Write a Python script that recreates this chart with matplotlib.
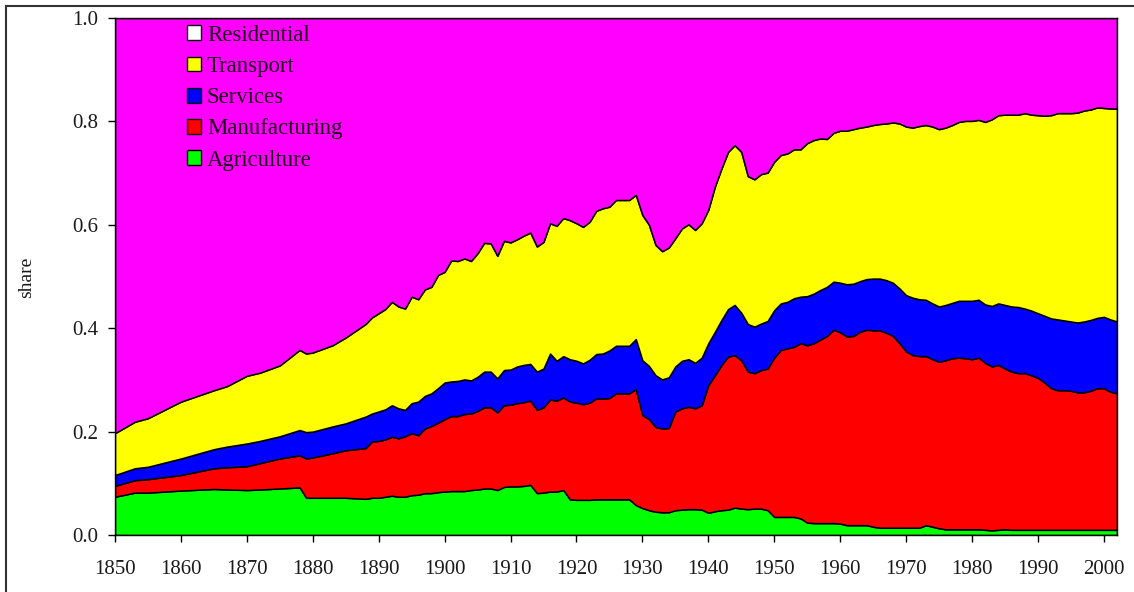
import numpy as np
import matplotlib.pyplot as plt
from matplotlib.patches import Patch
from matplotlib.lines import Line2D

plt.rcParams['font.family'] = ['Liberation Serif', 'DejaVu Serif']

years = [1850, 1853, 1855, 1860, 1865, 1867, 1870, 1872, 1875, 1878, 1879, 1880,
         1883, 1885, 1888, 1889, 1890, 1891, 1892, 1893] + list(range(1894, 2003))

# cumulative top of each band (share)
agri_top = [0.074, 0.082, 0.082, 0.086, 0.089, 0.088, 0.087, 0.088, 0.090, 0.092, 0.072, 0.072,
            0.072, 0.072, 0.070, 0.072, 0.072, 0.074, 0.076, 0.074,
            0.074, 0.077, 0.078, 0.081, 0.081, 0.083, 0.084, 0.085, 0.085, 0.085,
            0.087, 0.088, 0.090, 0.090, 0.087, 0.093, 0.094, 0.094, 0.095, 0.097,
            0.081, 0.082, 0.084, 0.084, 0.087, 0.069, 0.068, 0.068, 0.068, 0.069,
            0.069, 0.069, 0.069, 0.069, 0.069, 0.058, 0.052, 0.048, 0.045, 0.044,
            0.044, 0.048, 0.049, 0.050, 0.050, 0.049, 0.043, 0.046, 0.048, 0.049,
            0.053, 0.051, 0.050, 0.051, 0.051, 0.048, 0.035, 0.035, 0.035, 0.035,
            0.032, 0.024, 0.023, 0.023, 0.023, 0.023, 0.022, 0.019, 0.019, 0.019,
            0.019, 0.016, 0.014, 0.014, 0.014, 0.014, 0.014, 0.014, 0.014, 0.019,
            0.016, 0.013, 0.011, 0.011, 0.011, 0.011, 0.011, 0.011, 0.010, 0.009,
            0.010, 0.011, 0.010, 0.010, 0.010, 0.010, 0.010, 0.010, 0.010, 0.010,
            0.010, 0.010, 0.010, 0.010, 0.010, 0.010, 0.010, 0.010, 0.010]
manu_top = [0.095, 0.106, 0.108, 0.116, 0.129, 0.131, 0.133, 0.139, 0.148, 0.154, 0.148, 0.150,
            0.158, 0.164, 0.168, 0.181, 0.182, 0.185, 0.190, 0.187,
            0.191, 0.197, 0.193, 0.206, 0.211, 0.217, 0.224, 0.230, 0.230, 0.234,
            0.235, 0.240, 0.247, 0.247, 0.237, 0.251, 0.252, 0.255, 0.257, 0.260,
            0.242, 0.247, 0.262, 0.260, 0.266, 0.258, 0.256, 0.253, 0.256, 0.264,
            0.264, 0.265, 0.274, 0.274, 0.274, 0.282, 0.232, 0.224, 0.209, 0.206,
            0.207, 0.239, 0.245, 0.248, 0.245, 0.251, 0.290, 0.309, 0.329, 0.345,
            0.348, 0.338, 0.316, 0.313, 0.319, 0.322, 0.343, 0.358, 0.361, 0.364,
            0.371, 0.367, 0.371, 0.378, 0.385, 0.397, 0.392, 0.384, 0.385, 0.393,
            0.397, 0.396, 0.396, 0.391, 0.385, 0.371, 0.355, 0.348, 0.346, 0.346,
            0.340, 0.335, 0.338, 0.342, 0.343, 0.342, 0.340, 0.343, 0.333, 0.326,
            0.329, 0.322, 0.316, 0.313, 0.313, 0.309, 0.304, 0.295, 0.284, 0.280,
            0.280, 0.279, 0.276, 0.276, 0.279, 0.284, 0.284, 0.277, 0.274]
serv_top = [0.116, 0.129, 0.132, 0.148, 0.166, 0.171, 0.177, 0.182, 0.191, 0.203, 0.199, 0.200,
            0.210, 0.216, 0.229, 0.235, 0.239, 0.243, 0.251, 0.245,
            0.242, 0.255, 0.258, 0.269, 0.274, 0.284, 0.295, 0.297, 0.298, 0.301,
            0.299, 0.306, 0.316, 0.316, 0.303, 0.319, 0.320, 0.326, 0.329, 0.331,
            0.316, 0.322, 0.351, 0.337, 0.346, 0.340, 0.337, 0.332, 0.339, 0.350,
            0.351, 0.357, 0.366, 0.366, 0.366, 0.379, 0.338, 0.327, 0.309, 0.301,
            0.305, 0.326, 0.337, 0.340, 0.333, 0.343, 0.371, 0.393, 0.416, 0.437,
            0.445, 0.430, 0.408, 0.403, 0.409, 0.414, 0.435, 0.448, 0.451, 0.458,
            0.461, 0.462, 0.467, 0.474, 0.480, 0.490, 0.488, 0.485, 0.486, 0.491,
            0.495, 0.496, 0.496, 0.493, 0.488, 0.477, 0.464, 0.459, 0.456, 0.455,
            0.448, 0.442, 0.445, 0.449, 0.453, 0.453, 0.453, 0.455, 0.446, 0.443,
            0.448, 0.445, 0.442, 0.441, 0.438, 0.434, 0.429, 0.424, 0.419, 0.417,
            0.415, 0.413, 0.411, 0.413, 0.416, 0.420, 0.422, 0.417, 0.413]
trans_top = [0.197, 0.219, 0.226, 0.258, 0.280, 0.288, 0.308, 0.314, 0.328, 0.358, 0.351, 0.353,
             0.367, 0.382, 0.408, 0.421, 0.429, 0.437, 0.451, 0.442,
             0.438, 0.461, 0.456, 0.475, 0.480, 0.503, 0.509, 0.531, 0.530, 0.535,
             0.530, 0.545, 0.565, 0.564, 0.540, 0.569, 0.566, 0.572, 0.579, 0.585,
             0.558, 0.567, 0.603, 0.598, 0.613, 0.609, 0.603, 0.596, 0.606, 0.627,
             0.632, 0.635, 0.648, 0.648, 0.648, 0.658, 0.619, 0.600, 0.561, 0.549,
             0.556, 0.574, 0.593, 0.601, 0.590, 0.603, 0.629, 0.674, 0.709, 0.741,
             0.754, 0.741, 0.694, 0.688, 0.698, 0.701, 0.722, 0.735, 0.738, 0.746,
             0.746, 0.758, 0.764, 0.767, 0.766, 0.778, 0.782, 0.782, 0.785, 0.788,
             0.790, 0.793, 0.795, 0.796, 0.798, 0.796, 0.790, 0.788, 0.791, 0.793,
             0.790, 0.785, 0.788, 0.793, 0.799, 0.801, 0.801, 0.803, 0.799, 0.804,
             0.812, 0.813, 0.813, 0.813, 0.816, 0.813, 0.812, 0.811, 0.812, 0.816,
             0.816, 0.816, 0.817, 0.821, 0.823, 0.827, 0.826, 0.825, 0.825]

labels = ['Agriculture', 'Manufacturing', 'Services', 'Transport', 'Residential']
colors = ['#00ff00', '#ff0000', '#0000ff', '#ffff00', '#ff00ff']

levels = np.vstack([np.zeros(len(years)), agri_top, manu_top, serv_top, trans_top,
                    np.ones(len(years))])
shares = np.diff(levels, axis=0)

fig = plt.figure(figsize=(11.34, 5.92), dpi=100)
ax = fig.add_axes([0.1014, 0.0963, 0.8836, 0.8733])

ax.stackplot(years, shares, colors=colors, edgecolor='black', linewidth=1.1)

ax.set_xlim(1850, 2002)
ax.set_ylim(0, 1)
ax.set_xticks(range(1850, 2001, 10))
ax.set_yticks([0, 0.2, 0.4, 0.6, 0.8, 1.0])
ax.set_yticklabels(['0.0', '0.2', '0.4', '0.6', '0.8', '1.0'])
ax.tick_params(direction='out', length=5, width=1, labelsize=15, colors='black',
               labelcolor='#1a1a1a')
ax.tick_params(axis='y', pad=7)
ax.tick_params(axis='x', pad=13)
for s in ax.spines.values():
    s.set_linewidth(1.0)
fig.text(27 / 1134, 1 - 277 / 592, 'share', rotation=90, ha='center', va='center',
         fontsize=14, color='#1a1a1a')

handles = [Patch(facecolor=c, edgecolor='black', linewidth=1)
           for c in ['white', '#ffff00', '#0000ff', '#ff0000', '#00ff00']]
ax.legend(handles, ['Residential', 'Transport', 'Services', 'Manufacturing', 'Agriculture'],
          loc='upper left', bbox_to_anchor=(0.0719, 0.987), frameon=False, fontsize=16.4,
          handlelength=0.61, handleheight=0.61, handletextpad=0.26, labelspacing=0.45,
          borderpad=0, borderaxespad=0, labelcolor='#1a0018')

# outer frame (left and top edges)
fig.add_artist(Line2D([6 / 1134, 6 / 1134], [0, 1 - 6 / 592], transform=fig.transFigure,
                      color='#333333', linewidth=1.5))
fig.add_artist(Line2D([6 / 1134, 1], [1 - 6 / 592, 1 - 6 / 592], transform=fig.transFigure,
                      color='#333333', linewidth=1.5))

fig.savefig('out.png', dpi=100)
